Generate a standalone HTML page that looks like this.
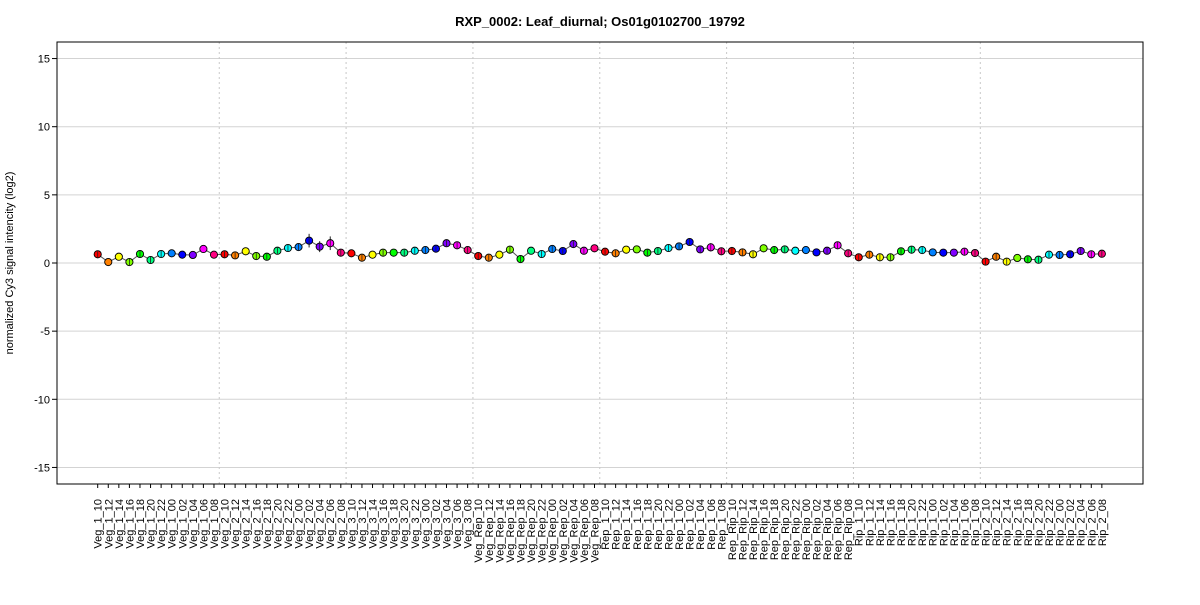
<!DOCTYPE html>
<html><head><meta charset="utf-8"><style>
body{margin:0;background:#fff}
svg{font-family:"Liberation Sans",Arial,sans-serif}
</style></head><body>
<svg id="c" width="1200" height="600" viewBox="0 0 1200 600">
<text x="600" y="26" text-anchor="middle" font-size="13" font-weight="bold">RXP_0002: Leaf_diurnal; Os01g0102700_19792</text>
<text transform="translate(13,263) rotate(-90)" text-anchor="middle" font-size="11">normalized Cy3 signal intencity (log2)</text>
<g id="grid"></g>
<g id="yax"></g>
<g id="xax"></g>
<g id="series"></g>
<rect x="57" y="42" width="1086" height="442" fill="none" stroke="#000" stroke-width="1"/>
</svg>
<script>
const groups=["Veg_1","Veg_2","Veg_3","Veg_Rep","Rep_1","Rep_Rip","Rip_1","Rip_2"];
const hours=["10","12","14","16","18","20","22","00","02","04","06","08"];
const values=[
0.64,0.07,0.46,0.07,0.66,0.22,0.66,0.71,0.61,0.59,1.03,0.61,
0.64,0.56,0.86,0.51,0.46,0.90,1.10,1.17,1.64,1.20,1.45,0.76,
0.71,0.39,0.61,0.76,0.76,0.76,0.90,0.95,1.05,1.45,1.30,0.95,
0.51,0.39,0.61,0.98,0.29,0.90,0.66,1.03,0.88,1.39,0.90,1.08,
0.83,0.71,0.98,1.00,0.76,0.88,1.10,1.22,1.54,1.00,1.15,0.86,
0.88,0.78,0.64,1.08,0.95,1.00,0.90,0.95,0.78,0.90,1.30,0.71,
0.42,0.61,0.42,0.42,0.86,0.98,0.95,0.78,0.76,0.76,0.83,0.73,
0.10,0.46,0.10,0.37,0.27,0.24,0.61,0.59,0.64,0.88,0.64,0.68];
const errs=[
0.1,0.08,0.08,0.1,0.1,0.1,0.1,0.08,0.08,0.08,0.08,0.08,
0.2,0.1,0.08,0.2,0.1,0.1,0.15,0.2,0.5,0.4,0.5,0.1,
0.08,0.1,0.08,0.1,0.08,0.1,0.1,0.1,0.1,0.15,0.25,0.1,
0.1,0.1,0.08,0.1,0.1,0.08,0.1,0.1,0.2,0.15,0.1,0.08,
0.15,0.1,0.08,0.08,0.1,0.1,0.1,0.15,0.1,0.1,0.3,0.1,
0.3,0.1,0.1,0.08,0.1,0.1,0.08,0.08,0.08,0.1,0.25,0.1,
0.25,0.15,0.1,0.1,0.1,0.1,0.1,0.08,0.08,0.08,0.1,0.1,
0.25,0.15,0.1,0.08,0.1,0.1,0.1,0.1,0.1,0.2,0.1,0.1];
const yTicks=[-15,-10,-5,0,5,10,15];
const colors=["#FF0000","#FF8000","#FFFF00","#80FF00","#00FF00","#00FF80","#00FFFF","#0080FF","#0000FF","#8000FF","#FF00FF","#FF0080"];
const NS="http://www.w3.org/2000/svg";
const y=v=>263-v*13.63;
const x=i=>97.7+i*10.57;
function mk(tag,at,par){const e=document.createElementNS(NS,tag);for(const k in at)e.setAttribute(k,at[k]);par.appendChild(e);return e;}
const grid=document.getElementById('grid'),yax=document.getElementById('yax'),xax=document.getElementById('xax'),ser=document.getElementById('series');
yTicks.forEach(t=>{
 const g=mk('line',{x1:57,x2:1143,y1:y(t),y2:y(t),stroke:'#d3d3d3','stroke-width':1},grid);
 
 
 const tk=mk('line',{x1:52,x2:57,y1:y(t),y2:y(t),stroke:'#000'},yax);
 
 
 const tx=mk('text',{x:50,y:y(t)+4,'text-anchor':'end','font-size':11},yax);
 tx.textContent=t;
 
 
});
for(let gI=1;gI<groups.length;gI++){
 const sx=(x(gI*12-1)+x(gI*12))/2;
 const s=mk('line',{x1:sx,x2:sx,y1:42,y2:484,stroke:'#c8c8c8','stroke-dasharray':'2,3'},grid);
 
 
}
const labels=[];groups.forEach(g=>hours.forEach(h=>labels.push(g+"_"+h)));
labels.forEach((l,i)=>{
 const tk=mk('line',{x1:x(i),x2:x(i),y1:484,y2:488,stroke:'#000'},xax);
 
 
 const tx=mk('text',{transform:`translate(${x(i)+4},499) rotate(-90)`,'text-anchor':'end','font-size':11},xax);
 tx.textContent=l;
 
 
});
const pts=values.map((v,i)=>x(i).toFixed(1)+","+y(v).toFixed(1)).join(" ");
const pl=mk('polyline',{points:pts,fill:'none',stroke:'#555','stroke-width':1},ser);


values.forEach((v,i)=>{
 const e=mk('line',{x1:x(i),x2:x(i),y1:y(v+errs[i]),y2:y(v-errs[i]),stroke:'#222','stroke-width':1},ser);
 
 
 const c=mk('circle',{cx:x(i),cy:y(v),r:3.6,fill:colors[i%12],stroke:'#000','stroke-width':0.9},ser);
 
 
 const e2=mk('line',{x1:x(i),x2:x(i),y1:y(v)-3,y2:y(v)+3,stroke:'#222','stroke-width':0.8,opacity:errs[i]>0.09?1:0},ser);
 
 
});
</script>
</body></html>
